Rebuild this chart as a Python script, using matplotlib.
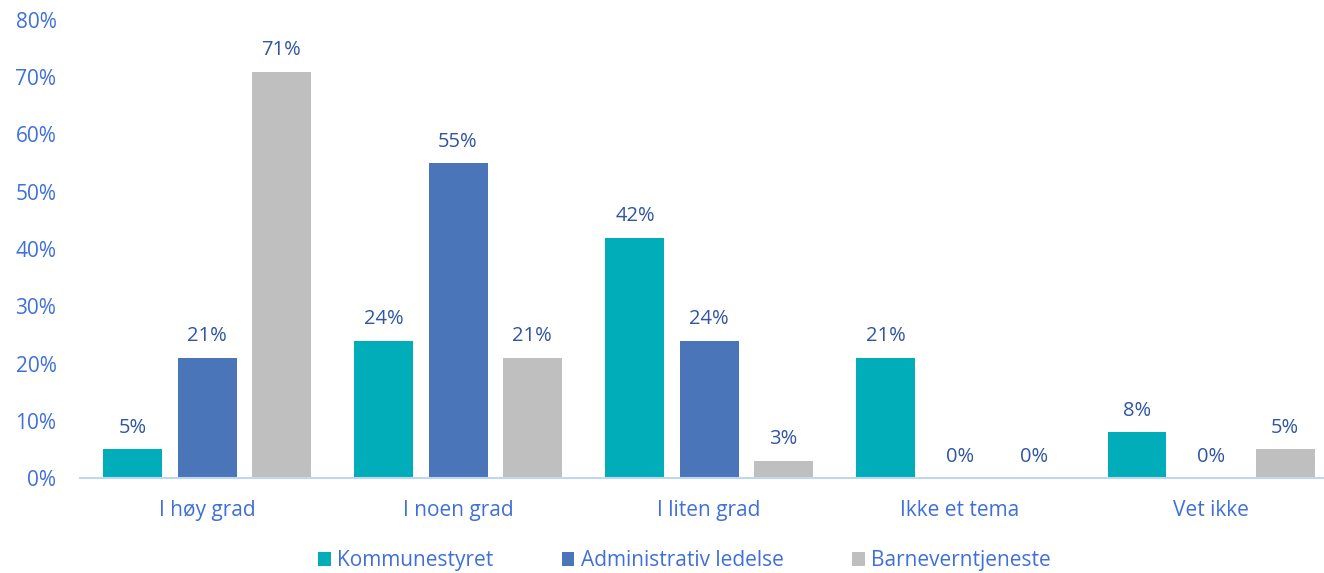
import numpy as np
import matplotlib.pyplot as plt

plt.rcParams['font.family'] = ['Open Sans', 'DejaVu Sans']

# categories and series (percent)
categories = ['I høy grad', 'I noen grad', 'I liten grad', 'Ikke et tema', 'Vet ikke']
series_names = ['Kommunestyret', 'Administrativ ledelse', 'Barneverntjeneste']
kommunestyret = [5, 24, 42, 21, 8]
admin = [21, 55, 24, 0, 0]
barnevern = [71, 21, 3, 0, 5]
yticks = [0, 10, 20, 30, 40, 50, 60, 70, 80]

colors = ['#00adb9', '#4a76b9', '#bfbfbf']
tick_col = '#3f6fdc'
label_col = '#2f55a4'

fig = plt.figure(figsize=(13.24, 5.73), dpi=100)
ax = fig.add_axes([80/1324, 95/573, 1244/1324, 458/573])

x = np.arange(len(categories))
w = 0.235
off = 0.295
for i, (vals, name) in enumerate(zip([kommunestyret, admin, barnevern], series_names)):
    bars = ax.bar(x + (i - 1)*off, vals, w, color=colors[i], label=name)
    for b, v in zip(bars, vals):
        ax.text(b.get_x() + b.get_width()/2, v + 2.0, f'{v}%', ha='center', va='bottom',
                fontsize=14.5, color=label_col)

ax.set_xlim(-0.506, 4.45)
ax.set_ylim(0, 80)
ax.set_yticks(yticks)
ax.set_yticklabels([f'{t}%' for t in yticks])
ax.set_xticks(x)
ax.set_xticklabels(categories)
ax.tick_params(axis='both', length=0, labelsize=15, colors=tick_col)
ax.tick_params(axis='y', pad=17)
ax.tick_params(axis='x', pad=16)
for s in ['top', 'right', 'left']:
    ax.spines[s].set_visible(False)
ax.spines['bottom'].set_color('#bdd7ee')
ax.spines['bottom'].set_linewidth(1.5)

leg = fig.legend(loc='lower center', bbox_to_anchor=(0.517, -0.03), ncol=3, frameon=False,
                 fontsize=15, handlelength=0.6, handleheight=0.6, handletextpad=0.3,
                 columnspacing=3.3)
for t in leg.get_texts():
    t.set_color(tick_col)

fig.savefig('out.png', dpi=100)
